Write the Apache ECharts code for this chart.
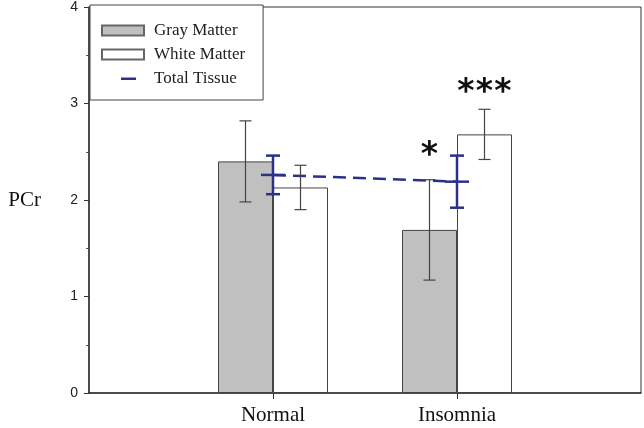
<!DOCTYPE html>
<html><head><meta charset="utf-8">
<script src="https://cdn.jsdelivr.net/npm/echarts@6/dist/echarts.min.js"></script>
<style>html,body{margin:0;padding:0;background:#fff}#c{width:644px;height:428px}</style>
</head><body><div id="c"></div>
<script>
// ---- data ----
const categories = ['Normal', 'Insomnia'];
const grayMatter = [2.40, 1.69];
const grayErr = [0.42, 0.52];
const whiteMatter = [2.13, 2.68];
const whiteErr = [0.23, 0.26];
const totalTissue = [2.26, 2.19];
const totalErr = [0.20, 0.27];
const graySig = ['', '*'];
const whiteSig = ['', '***'];
const yTickLabels = ['0', '1', '2', '3', '4'];

// ---- helpers ----
const BAR_W = 55;
const NAVY = '#2b3188';
const axisCats = [''].concat(categories, ['']);
const padVals = v => ['-'].concat(v, ['-']);

function errSeries(vals, errs, shift, color, width, cap, center) {
  return {
    type: 'custom', silent: true, z: 5,
    data: categories.map((c, i) => [c, vals[i] - errs[i], vals[i] + errs[i], vals[i]]),
    renderItem(params, api) {
      const lo = api.coord([api.value(0), api.value(1)]);
      const hi = api.coord([api.value(0), api.value(2)]);
      const mid = api.coord([api.value(0), api.value(3)]);
      const x = lo[0] + shift;
      const style = { stroke: color, lineWidth: width };
      const ch = [
        { type: 'line', shape: { x1: x, y1: lo[1], x2: x, y2: hi[1] }, style },
        { type: 'line', shape: { x1: x - cap, y1: lo[1], x2: x + cap, y2: lo[1] }, style },
        { type: 'line', shape: { x1: x - cap, y1: hi[1], x2: x + cap, y2: hi[1] }, style }
      ];
      if (center) ch.push({ type: 'line', shape: { x1: x - center, y1: mid[1], x2: x + center, y2: mid[1] }, style });
      return { type: 'group', children: ch };
    }
  };
}
// significance stars, one text per star so they can be spaced like the original
function sigSeries(vals, errs, sig, shift, gap) {
  const STEP = 18.5;
  return {
    type: 'custom', silent: true, z: 6,
    data: categories.map((c, i) => [c, vals[i] + errs[i]]),
    renderItem(params, api) {
      const p = api.coord([api.value(0), api.value(1)]);
      const t = sig[params.dataIndex];
      if (!t) return null;
      const chars = t.split('');
      const x0 = p[0] + shift - (chars.length - 1) * STEP / 2;
      return { type: 'group', children: chars.map((s, k) => ({
        type: 'text', x: x0 + k * STEP, y: p[1] - gap,
        style: { text: s, fill: '#111', font: 'bold 33px "DejaVu Sans"', align: 'center', verticalAlign: 'middle' }
      })) };
    }
  };
}
const rectIcon = 'path://M0,0 M47,10 M0,0 L42,0 L42,10 L0,10 Z';
const dashIcon = 'path://M0,0 M47,10 M19,4 L34,4 L34,6.5 L19,6.5 Z';

const chart = echarts.init(document.getElementById('c'));
chart.setOption({
  animation: false,
  backgroundColor: '#fff',
  grid: { left: 89, right: 2, top: 5, bottom: 35, show: true, borderColor: '#333', borderWidth: 1 },
  legend: {
    left: 90, top: 5, orient: 'vertical', padding: [17, 18, 13, 11], itemGap: 7,
    itemWidth: 47, itemHeight: 10,
    borderColor: '#444', borderWidth: 1, backgroundColor: '#fff', borderRadius: 0,
    textStyle: { fontFamily: 'Liberation Serif', fontSize: 17, color: '#222' },
    data: [
      { name: 'Gray Matter', icon: rectIcon, itemStyle: { borderColor: '#666' } },
      { name: 'White Matter', icon: rectIcon, itemStyle: { borderColor: '#666' } },
      { name: 'Total Tissue', icon: dashIcon }
    ]
  },
  xAxis: {
    type: 'category', data: axisCats, boundaryGap: false,
    axisLine: { lineStyle: { color: '#333', width: 1.5 } },
    axisTick: { length: 6, interval: (i, v) => v !== '', lineStyle: { color: '#333' } },
    axisLabel: { interval: 0, margin: 12, fontFamily: 'Liberation Serif', fontSize: 21, color: '#111' },
    splitLine: { show: false }
  },
  yAxis: {
    type: 'value', min: 0, max: 4, interval: 1,
    name: 'PCr', nameLocation: 'middle', nameRotate: 0, nameGap: 48,
    nameTextStyle: { fontFamily: 'Liberation Serif', fontSize: 21, color: '#111' },
    axisLine: { show: true, lineStyle: { color: '#333', width: 1.5 } },
    axisTick: { show: true, length: 5, lineStyle: { color: '#333' } },
    minorTick: { show: true, splitNumber: 2, length: 3, lineStyle: { color: '#555' } },
    axisLabel: { margin: 11, fontFamily: 'Liberation Sans', fontSize: 14, color: '#222',
      formatter: v => yTickLabels[Math.round(v)] },
    splitLine: { show: false }
  },
  series: [
    { name: 'Gray Matter', type: 'bar', data: padVals(grayMatter), barWidth: BAR_W, barGap: '0%',
      itemStyle: { color: '#c0c0c0', borderColor: '#444', borderWidth: 1 } },
    { name: 'White Matter', type: 'bar', data: padVals(whiteMatter), barWidth: BAR_W, barGap: '0%',
      itemStyle: { color: '#ffffff', borderColor: '#444', borderWidth: 1 } },
    { name: 'Total Tissue', type: 'line', data: padVals(totalTissue), symbol: 'none', z: 4,
      itemStyle: { color: NAVY },
      lineStyle: { color: NAVY, width: 2.5, type: [13, 7] } },
    errSeries(grayMatter, grayErr, -BAR_W / 2, '#444', 1.2, 6, 0),
    errSeries(whiteMatter, whiteErr, BAR_W / 2, '#444', 1.2, 6, 0),
    errSeries(totalTissue, totalErr, 0, NAVY, 2.5, 7, 12),
    sigSeries(grayMatter, grayErr, graySig, -BAR_W / 2, 23),
    sigSeries(whiteMatter, whiteErr, whiteSig, BAR_W / 2, 16)
  ]
});
</script></body></html>
